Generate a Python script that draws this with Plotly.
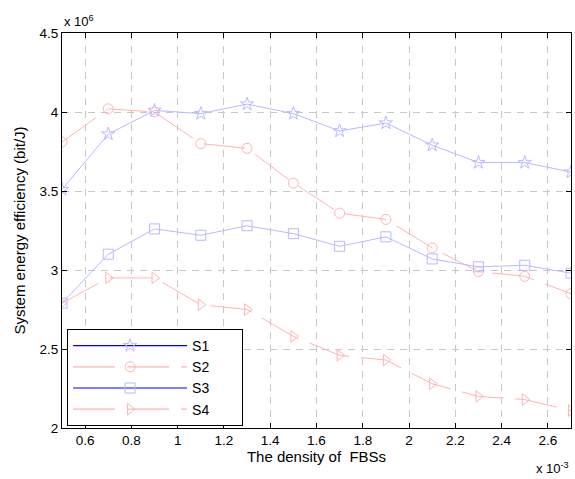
import plotly.graph_objects as go

density = [0.5, 0.7, 0.9, 1.1, 1.3, 1.5, 1.7, 1.9, 2.1, 2.3, 2.5, 2.7]  # x 10^-3
s1 = [3.51, 3.86, 4.01, 3.99, 4.05, 3.99, 3.88, 3.93, 3.79, 3.68, 3.68, 3.62]
s2 = [3.81, 4.02, 4.00, 3.80, 3.77, 3.55, 3.36, 3.32, 3.14, 2.99, 2.96, 2.85]
s3 = [2.79, 3.10, 3.26, 3.22, 3.28, 3.23, 3.15, 3.21, 3.07, 3.02, 3.03, 2.98]
s4 = [2.79, 2.95, 2.95, 2.78, 2.75, 2.58, 2.46, 2.43, 2.28, 2.20, 2.18, 2.11]
names = ["S1", "S2", "S3", "S4"]
xticks = [0.6, 0.8, 1.0, 1.2, 1.4, 1.6, 1.8, 2.0, 2.2, 2.4, 2.6]
xticklabels = ["0.6", "0.8", "1", "1.2", "1.4", "1.6", "1.8", "2", "2.2", "2.4", "2.6"]
yticks = [2, 2.5, 3, 3.5, 4, 4.5]
yticklabels = ["2", "2.5", "3", "3.5", "4", "4.5"]

LB = "rgb(185,185,255)"
LR = "rgb(255,180,180)"
DASH = "42px,12px"
FONT = "Liberation Sans, Arial, sans-serif"

styles = [
    dict(symbol="star-open", color=LB, dash="solid", legline="rgb(0,0,255)"),
    dict(symbol="circle-open", color=LR, dash=DASH, legline=LR),
    dict(symbol="square-open", color=LB, dash="solid", legline="rgb(0,0,255)"),
    dict(symbol="triangle-right-open", color=LR, dash=DASH, legline=LR),
]

fig = go.Figure()
for name, ys, st in zip(names, [s1, s2, s3, s4], styles):
    fig.add_trace(go.Scatter(
        x=density, y=ys, mode="lines+markers", showlegend=False,
        line=dict(color=st["color"], width=1, dash=st["dash"]),
        marker=dict(symbol=st["symbol"], size=10, color=st["color"], line=dict(width=1, color=st["color"])),
    ))
PAD = "\u00a0" * 7
for name, st in zip(names, styles):
    fig.add_trace(go.Scatter(
        x=[None], y=[None], mode="lines+markers", name=name + PAD,
        line=dict(color=st["legline"], width=1.2, dash=st["dash"]),
        marker=dict(symbol=st["symbol"], size=10, color=st["color"], line=dict(width=1, color=st["color"])),
    ))

axis_common = dict(
    showline=True, linecolor="black", linewidth=1, mirror="ticks",
    ticks="inside", ticklen=5, tickcolor="black", automargin=False,
    showgrid=True, gridcolor="rgb(200,200,200)", griddash="7px,6px", gridwidth=1,
    zeroline=False, tickfont=dict(family=FONT, size=13.5, color="black"),
)

fig.update_layout(
    width=575, height=479,
    margin=dict(l=62, r=4, t=33, b=51),
    paper_bgcolor="white", plot_bgcolor="white",
    font=dict(family=FONT, size=14, color="black"),
    xaxis=dict(range=[0.5, 2.7], tickvals=xticks, ticktext=xticklabels,
               title=dict(text="The density of\u00a0 FBSs", standoff=2, font=dict(size=15)), **axis_common),
    yaxis=dict(range=[2, 4.5], tickvals=yticks, ticktext=yticklabels,
               title=dict(text="System energy efficiency (bit/J)", standoff=10, font=dict(size=15)), **axis_common),
    legend=dict(x=0.01, y=0.2506, xanchor="left", yanchor="top",
                bgcolor="white", bordercolor="black", borderwidth=1,
                font=dict(size=14), itemwidth=114, tracegroupgap=0),
    annotations=[
        dict(text="x 10<sup>6</sup>", xref="paper", yref="paper", x=0.0, y=1.0,
             xanchor="left", yanchor="bottom", showarrow=False, font=dict(size=13), yshift=2),
        dict(text="x 10<sup>-3</sup>", xref="paper", yref="paper", x=1.0, y=0.0,
             xanchor="right", yanchor="top", showarrow=False, font=dict(size=13), yshift=-30),
    ],
)

fig.write_html("out.html", config={"displayModeBar": False},
               post_script="document.body.style.margin='0';document.body.style.overflow='hidden';")
